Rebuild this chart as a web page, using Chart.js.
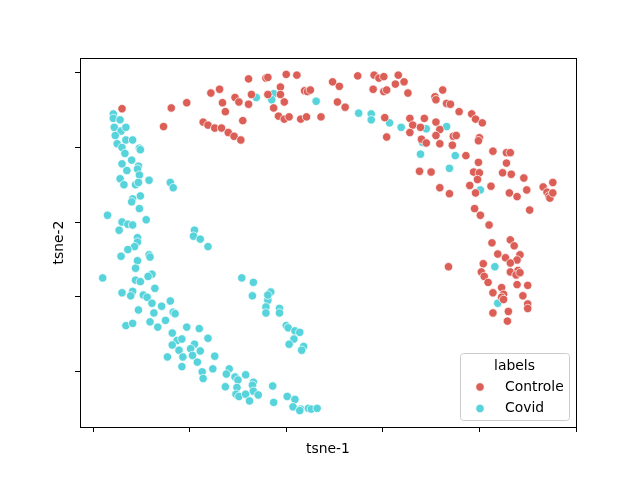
<!DOCTYPE html>
<html>
<head>
<meta charset="utf-8">
<script src="https://cdn.jsdelivr.net/npm/chart.js@4"></script>
<style>
  html, body { margin: 0; padding: 0; background: #fff; }
  canvas { display: block; }
</style>
</head>
<body>
<canvas id="grafico" width="640" height="480"></canvas>
<script>
// t-SNE embedding (arbitrary units, ticks every 10)
const controlePontos = [
  [-17.0,15.2],[-11.9,15.3],[-10.3,16.0],[-12.7,12.8],[-7.8,17.3],[-6.9,17.8],[-6.6,16.0],[-6.3,14.8],
  [-5.3,16.7],[-4.9,16.1],[-3.9,19.2],[-3.9,15.8],[-4.5,13.6],[-8.6,13.4],[-8.1,13.0],[-7.4,12.6],
  [-6.7,12.6],[-6.0,12.0],[-5.4,11.5],[-4.7,11.0],
  [-2.1,19.3],[-1.9,19.4],[0.0,19.8],[1.1,19.7],[-3.6,17.1],[-1.9,17.1],[-0.6,18.1],[-0.6,17.1],
  [-0.2,16.1],[-1.3,15.3],[-0.8,14.2],[-0.2,13.8],[0.3,14.1],[1.5,13.8],[2.1,14.1],[3.6,14.1],
  [1.9,17.6],[2.2,17.5],[2.5,17.7],[4.8,18.8],[5.5,18.2],[5.3,16.1],[6.1,15.4],[7.4,19.6],
  [9.1,19.7],[9.6,19.3],[10.1,19.5],[11.6,19.7],[11.3,18.5],[12.2,18.8],[9.0,17.8],[10.1,17.5],
  [10.4,17.7],[12.6,17.3],[10.2,14.0],[10.4,11.4],[12.8,13.9],[13.1,13.0],[12.8,12.0],
  [16.2,17.7],[15.4,16.8],[15.5,16.4],[16.6,15.9],[17.0,15.8],[17.9,14.8],[19.2,14.5],[19.6,13.8],
  [20.3,13.3],[14.3,13.9],[13.9,12.7],[15.5,13.4],[15.9,12.4],[15.5,11.6],[14.0,11.1],[14.5,10.6],
  [15.9,10.5],[17.3,11.5],[17.6,11.6],[17.2,10.3],[18.6,8.9],[20.0,11.3],[19.9,10.9],[21.4,9.5],
  [22.8,9.3],[23.2,9.3],[22.8,7.9],[19.9,8.0],[13.8,6.8],[15.0,6.7],[19.4,6.7],[20.0,6.6],
  [22.4,6.6],[23.3,6.4],[24.6,5.9],[27.6,5.3],[19.8,5.7],
  [15.9,4.6],[16.9,3.8],[19.0,4.9],[19.6,3.9],[21.2,4.8],[23.1,3.9],[23.9,3.4],[24.9,4.3],
  [26.6,4.7],[27.0,4.0],[27.2,3.5],[27.3,3.2],[27.6,3.9],[25.2,1.6],[19.5,1.8],[20.1,0.9],
  [21.0,-0.4],[21.3,-2.8],[23.2,-2.4],[23.6,-3.2],[21.9,-4.3],[22.7,-4.8],[24.2,-4.4],[23.9,-5.1],
  [23.2,-5.5],[20.4,-5.6],[16.8,-6.0],[20.2,-6.7],[20.5,-7.3],[23.2,-6.7],[24.0,-6.5],[23.8,-7.1],
  [24.2,-6.8],[20.9,-8.1],[23.9,-8.4],[25.0,-8.5],[22.3,-8.8],[21.4,-9.5],[22.5,-9.7],[22.3,-10.1],
  [24.5,-9.9],[25.0,-11.0],[22.5,-10.4],[25.0,-11.6],[21.4,-12.2],[23.0,-12.0],[22.9,-13.3]
];

const covidPontos = [
  [-17.9,14.5],[-17.9,13.9],[-17.2,13.7],[-17.8,12.7],[-17.1,12.2],[-16.6,12.7],[-17.7,11.6],[-16.6,11.0],
  [-15.9,11.0],[-17.5,10.5],[-17.0,10.0],[-15.2,9.9],[-15.1,9.7],[-16.7,9.2],[-16.0,8.3],[-17.0,7.8],
  [-15.3,7.5],[-15.4,7.1],[-16.5,6.9],[-15.2,6.3],[-17.2,5.8],[-14.2,5.6],[-12.0,5.3],[-16.8,5.0],
  [-15.6,5.0],[-15.3,5.3],[-11.7,4.6],[-15.1,3.5],[-15.9,3.1],[-16.0,2.7],[-15.2,1.8],[-18.5,0.9],
  [-14.5,0.3],[-17.0,0.0],[-16.4,-0.3],[-15.9,-0.4],[-17.3,-1.1],[-9.5,-1.1],[-9.6,-1.9],[-8.9,-2.3],
  [-8.1,-3.3],[-15.4,-2.1],[-15.4,-2.7],[-15.7,-3.3],[-16.4,-3.7],[-17.1,-4.6],[-14.2,-4.4],[-14.1,-4.7],
  [-15.4,-5.2],[-15.6,-6.2],[-19.0,-7.5],[-13.9,-7.0],[-14.3,-7.3],[-15.6,-7.8],[-15.1,-8.0],[-4.6,-7.5],
  [-13.6,-8.9],[-17.0,-9.5],[-15.9,-9.3],[-16.1,-9.9],[-14.8,-9.8],[-14.4,-10.1],[-12.0,-10.6],[-13.9,-10.9],
  [-12.9,-11.3],[-15.3,-11.8],[-13.7,-12.2],[-11.7,-12.1],[-11.5,-12.3],[-16.6,-13.9],[-15.9,-13.6],[-14.1,-13.4],
  [-12.5,-13.2],[-13.3,-14.1],[-10.3,-14.1],[-9.0,-14.3],[-11.8,-14.9],[-11.3,-15.9],[-10.8,-15.7],[-8.1,-15.6],
  [-11.8,-16.5],[-9.5,-16.4],[-9.9,-17.0],[-11.1,-17.2],[-8.9,-17.3],[-9.7,-17.9],[-10.7,-18.1],[-12.3,-18.1],
  [-7.4,-18.0],[-9.2,-18.8],[-10.8,-19.4],[-8.7,-20.1],[-8.6,-21.0],[-7.6,-19.7],[-5.9,-19.7],[-6.2,-20.4],
  [-5.3,-20.8],[-5.0,-21.2],[-4.2,-20.5],[-6.3,-22.1],[-5.1,-22.2],[-5.2,-23.1],[-4.9,-23.4],[-4.2,-23.1],
  [-3.8,-24.0],[-3.5,-9.9],[-1.9,-10.5],[-2.1,-11.4],[-2.1,-12.2],[-0.7,-11.6],[-0.7,-12.2],[0.0,-13.9],
  [0.2,-14.2],[0.9,-14.6],[1.4,-14.8],[0.8,-15.7],[0.3,-16.4],[1.8,-16.7],[1.6,-17.2],[-3.4,-21.5],
  [-3.5,-21.9],[-3.4,-22.7],[-2.9,-23.2],[-1.4,-22.0],[-1.3,-24.2],[0.1,-23.4],[0.9,-23.8],[0.7,-24.8],
  [1.5,-25.1],[1.4,-25.3],[2.3,-25.0],[2.6,-25.1],[3.2,-25.0],[-3.4,-8.1],[-1.6,-9.4],[-1.9,-9.8],
  [-3.1,16.7],[-1.3,17.2],[-1.5,16.4],[3.1,16.2],[7.5,14.6],[8.8,14.5],[8.8,13.7],[10.7,13.3],
  [11.9,12.7],[14.5,12.5],[16.6,12.8],[14.1,10.7],[13.9,9.1],[17.5,8.9],[16.9,7.2],[20.1,4.3],
  [21.6,-6.0],[21.9,-10.9]
];

const rotulos = ["Controle", "Covid"];
const cores = ["#db5f57", "#57d3db"];
const limitesX = [-21.35, 30];
const limitesY = [-27.5, 22.0];

const fonte = "'DejaVu Sans', sans-serif";

// moldura completa (4 lados) como no matplotlib
const moldura = {
  id: "moldura",
  afterDraw(chart) {
    const { ctx, chartArea: a } = chart;
    ctx.save();
    ctx.strokeStyle = "#000";
    ctx.lineWidth = 1;
    ctx.strokeRect(Math.round(a.left) + 0.5, Math.round(a.top) + 0.5,
      Math.round(a.right - a.left), Math.round(a.bottom - a.top));
    ctx.restore();
  }
};

// legenda estilo seaborn, no canto inferior direito
const legenda = {
  id: "legenda",
  afterDatasetsDraw(chart) {
    const { ctx, chartArea: a } = chart;
    const w = 109, h = 67;
    const x = a.right - 7 - w, y = a.bottom - 7 - h;
    ctx.save();
    ctx.beginPath();
    ctx.roundRect(x + 0.5, y + 0.5, w, h, 3);
    ctx.fillStyle = "rgba(255,255,255,0.8)";
    ctx.fill();
    ctx.strokeStyle = "#cccccc";
    ctx.lineWidth = 1;
    ctx.stroke();

    ctx.fillStyle = "#000";
    ctx.font = "13.9px " + fonte;
    ctx.textBaseline = "middle";
    ctx.textAlign = "center";
    ctx.fillText("labels", x + w / 2, y + 13.5);

    ctx.textAlign = "left";
    rotulos.forEach((r, i) => {
      const cy = y + 34 + i * 21.5;
      ctx.beginPath();
      ctx.arc(x + 20, cy, 4.2, 0, Math.PI * 2);
      ctx.fillStyle = cores[i];
      ctx.fill();
      ctx.strokeStyle = "#fff";
      ctx.lineWidth = 0.7;
      ctx.stroke();
      ctx.fillStyle = "#000";
      ctx.fillText(r, x + 45, cy);
    });
    ctx.restore();
  }
};

function eixo(titulo, limites, largura, pad) {
  return {
    type: "linear",
    min: limites[0],
    max: limites[1],
    border: { display: false },
    grid: { drawOnChartArea: false, tickLength: 5, tickColor: "#000", tickWidth: 1 },
    ticks: { display: false, stepSize: 10, includeBounds: false },
    title: {
      display: true, text: titulo, color: "#000",
      font: { family: fonte, size: 13.9 },
      padding: pad
    },
    afterFit(s) { if (s.isHorizontal()) s.height = largura; else s.width = largura; }
  };
}

new Chart(document.getElementById("grafico"), {
  type: "scatter",
  data: {
    datasets: [
      { label: rotulos[0], data: controlePontos.map(p => ({ x: p[0], y: p[1] })), backgroundColor: cores[0] },
      { label: rotulos[1], data: covidPontos.map(p => ({ x: p[0], y: p[1] })), backgroundColor: cores[1] }
    ]
  },
  options: {
    responsive: false,
    animation: false,
    layout: { padding: { left: 47, right: 64, top: 58, bottom: 20 } },
    elements: { point: { radius: 4.2, borderColor: "#fff", borderWidth: 0.7, hoverRadius: 4.2 } },
    plugins: { legend: { display: false }, tooltip: { enabled: false } },
    scales: {
      x: eixo("tsne-1", limitesX, 33, { top: 4, bottom: 2 }),
      y: eixo("tsne-2", limitesY, 33, { top: 4, bottom: 4 })
    }
  },
  plugins: [moldura, legenda]
});
</script>
</body>
</html>
